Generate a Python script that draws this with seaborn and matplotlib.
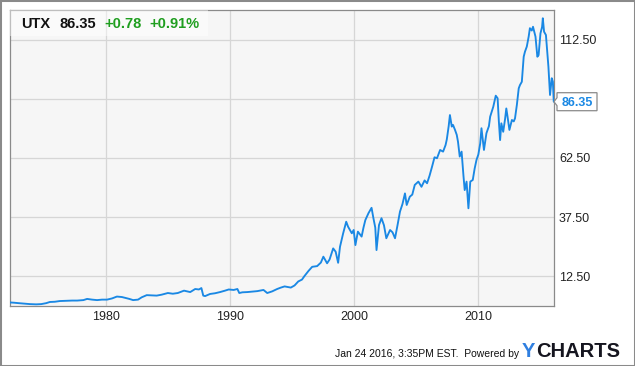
import matplotlib
matplotlib.use("Agg")
import matplotlib.pyplot as plt
import seaborn as sns
import pandas as pd
from matplotlib.patches import Rectangle, Polygon
from matplotlib.transforms import IdentityTransform

# ---------------- data ----------------
ticker = "UTX"
last_price = "86.35"
change_abs = "+0.78"
change_pct = "+0.91%"
footer_text = "Jan 24 2016, 3:35PM EST.  Powered by"

years = [
    1972.29, 1972.6, 1973.0, 1973.5, 1973.9, 1974.4, 1974.8, 1975.2, 1975.5, 1975.9,
    1976.3, 1976.8, 1977.3, 1977.7, 1978.2, 1978.5, 1978.9, 1979.3, 1979.7, 1980.1,
    1980.5, 1980.9, 1981.3, 1981.6, 1981.9, 1982.2, 1982.6, 1982.9, 1983.3, 1983.7,
    1984.1, 1984.5, 1985.0, 1985.4, 1985.8, 1986.3, 1986.8, 1987.2, 1987.5, 1987.7,
    1987.85, 1988.0, 1988.4, 1988.8, 1989.2, 1989.6, 1989.9, 1990.3, 1990.6, 1990.75,
    1991.0, 1991.4, 1991.8, 1992.2, 1992.7, 1993.0, 1993.4, 1993.8, 1994.1, 1994.4,
    1994.9, 1995.2, 1995.5, 1995.8, 1996.0, 1996.33, 1996.62, 1997.02, 1997.32, 1997.52,
    1997.82, 1998.02, 1998.31, 1998.51, 1998.71, 1998.86, 1999.11, 1999.36, 1999.51, 1999.81,
    1999.96, 2000.1, 2000.3, 2000.6, 2000.75, 2000.9, 2001.15, 2001.4, 2001.55, 2001.7,
    2001.8, 2002.0, 2002.2, 2002.4, 2002.59, 2002.89, 2003.09, 2003.29, 2003.49, 2003.69,
    2003.89, 2004.09, 2004.23, 2004.48, 2004.68, 2004.88, 2005.17, 2005.42, 2005.67, 2005.87,
    2006.07, 2006.27, 2006.47, 2006.67, 2006.92, 2007.16, 2007.36, 2007.46, 2007.61, 2007.71,
    2007.86, 2007.96, 2008.12, 2008.26, 2008.36, 2008.5, 2008.65, 2008.8, 2008.9, 2009.05,
    2009.2, 2009.35, 2009.55, 2009.7, 2009.85, 2010.0, 2010.15, 2010.25, 2010.45, 2010.65,
    2010.85, 2010.95, 2011.2, 2011.4, 2011.55, 2011.65, 2011.75, 2011.85, 2012.0, 2012.15,
    2012.25, 2012.35, 2012.5, 2012.7, 2012.85, 2012.95, 2013.1, 2013.25, 2013.35, 2013.5,
    2013.65, 2013.75, 2013.9, 2014.05, 2014.15, 2014.3, 2014.4, 2014.6, 2014.75, 2014.85,
    2015.0, 2015.13, 2015.19, 2015.29, 2015.44, 2015.54, 2015.64, 2015.77, 2015.91, 2016.0,
    2016.07,
]
prices = [
    1.3, 1.2, 1.0, 0.8, 0.6, 0.5, 0.6, 1.0, 1.5, 1.6,
    1.9, 2.0, 2.1, 2.1, 2.3, 2.8, 2.5, 2.3, 2.5, 2.5,
    3.0, 3.8, 3.6, 3.2, 2.8, 2.3, 2.5, 3.5, 4.4, 4.3,
    4.2, 4.6, 5.3, 5.0, 5.3, 6.3, 5.7, 7.0, 6.8, 7.4,
    4.2, 4.0, 4.9, 5.2, 5.7, 6.3, 6.8, 6.6, 7.0, 5.3,
    5.6, 5.7, 5.9, 6.1, 6.6, 5.3, 6.0, 7.0, 7.6, 8.1,
    7.6, 8.5, 10.2, 11.0, 12.5, 14.7, 16.4, 16.7, 18.2, 20.7,
    17.9, 19.5, 24.2, 22.8, 18.1, 24.9, 30.5, 35.5, 33.4, 30.6,
    32.0, 25.6, 31.3, 29.2, 33.0, 36.2, 39.1, 41.4, 37.0, 33.0,
    23.5, 34.1, 37.0, 34.0, 28.5, 32.0, 31.0, 28.5, 34.0, 39.8,
    43.0, 47.5, 42.6, 46.1, 47.0, 51.1, 52.5, 50.3, 53.0, 51.8,
    55.0, 58.8, 62.8, 62.4, 65.9, 65.2, 68.0, 70.4, 76.0, 80.7,
    75.8, 76.5, 74.4, 72.3, 69.4, 63.1, 65.2, 55.0, 48.9, 52.5,
    41.2, 52.5, 53.2, 58.0, 61.7, 64.0, 68.7, 75.1, 65.9, 73.0,
    76.0, 80.0, 84.2, 88.9, 87.8, 78.0, 70.1, 77.2, 73.6, 79.0,
    83.5, 80.0, 74.4, 78.6, 78.0, 79.3, 85.0, 92.0, 93.4, 94.8,
    105.4, 107.5, 109.7, 113.9, 117.5, 116.5, 118.1, 113.9, 105.4, 106.1,
    115.3, 118.0, 121.7, 116.0, 114.6, 108.0, 101.2, 89.2, 96.3, 94.8,
    86.35,
]

ytick_values = [12.5, 37.5, 62.5, 87.5, 112.5]
ytick_labels = ["12.50", "37.50", "62.50", "", "112.50"]
xtick_values = [1980, 1990, 2000, 2010]
xtick_labels = ["1980", "1990", "2000", "2010"]

df = pd.DataFrame({"year": years, "price": prices})

# ---------------- style ----------------
sns.set_theme(style="white")
plt.rcParams['font.family'] = ['Liberation Sans', 'DejaVu Sans']

W, H = 635, 366
fig = plt.figure(figsize=(W / 100, H / 100), dpi=100)
fig.patch.set_facecolor("white")

def fx(px):
    return px / W

def fy(py):
    return 1 - py / H

ax_left, ax_top, ax_right, ax_bottom = 10, 10, 554, 306
ax = fig.add_axes([fx(ax_left), fy(ax_bottom), fx(ax_right - ax_left), (ax_bottom - ax_top) / H])
ax.set_facecolor("#f6f6f6")

line_color = "#1a88e4"
sns.lineplot(data=df, x="year", y="price", ax=ax, color=line_color,
             linewidth=1.35, estimator=None, sort=False, zorder=3)

ax.set_xlim(1972.29, 2016.09)
ax.set_ylim(-0.2, 125.2)
ax.set_xticks(xtick_values)
ax.set_xticklabels(xtick_labels)
ax.set_yticks(ytick_values)
ax.set_yticklabels(ytick_labels)
ax.yaxis.tick_right()
ax.tick_params(axis="both", length=0, labelsize=9, colors="#222222")
ax.tick_params(axis="y", pad=3.6)
ax.tick_params(axis="x", pad=3.8)
ax.set_xlabel("")
ax.set_ylabel("")
ax.grid(True, color="#d6d6d6", linewidth=0.9)
ax.set_axisbelow(True)
for s in ax.spines.values():
    s.set_color("#8a8a8a")
    s.set_linewidth(0.9)
    s.set_visible(True)

# header overlay box
hdr = Rectangle((fx(10), fy(36)), fx(198), 26 / H, transform=fig.transFigure,
                facecolor="white", edgecolor="none", alpha=0.45, zorder=5)
fig.patches.append(hdr)

fig.text(fx(21), fy(28.3), ticker, fontsize=10.5, fontweight="bold", color="#111111",
         ha="left", va="baseline", zorder=6)
fig.text(fx(60), fy(28.3), last_price, fontsize=10.5, fontweight="bold", color="#111111",
         ha="left", va="baseline", zorder=6)
fig.text(fx(104), fy(28.3), change_abs, fontsize=10.5, fontweight="bold", color="#1f9e1f",
         ha="left", va="baseline", zorder=6)
fig.text(fx(149), fy(28.3), change_pct, fontsize=10.5, fontweight="bold", color="#1f9e1f",
         ha="left", va="baseline", zorder=6)

# price tag at the last value
fig.canvas.draw()
tip_x, tip_y = ax.transData.transform((2016.09, prices[-1]))
bx0, bx1 = tip_x + 3, tip_x + 43
by0, by1 = tip_y - 9, tip_y + 9
tag = Polygon([(tip_x, tip_y), (bx0, tip_y + 4), (bx0, by1), (bx1, by1),
               (bx1, by0), (bx0, by0), (bx0, tip_y - 4)], closed=True,
              transform=IdentityTransform(), facecolor="white", edgecolor="#8a8a8a",
              linewidth=0.9, zorder=10)
fig.patches.append(tag)
fig.text((bx0 + bx1) / 2 / W, tip_y / H, last_price, fontsize=9, fontweight="bold",
         color=line_color, ha="center", va="center_baseline", zorder=11)

# footer
fig.text(fx(519), fy(356.7), footer_text, fontsize=7.5, color="#111111",
         ha="right", va="baseline")
ytxt = fig.text(fx(522), fy(357), "Y", fontsize=14.5, fontweight="bold", color="#2f7fe0",
                ha="left", va="baseline")
ax.annotate("CHARTS", xy=(1, 0), xycoords=ytxt, xytext=(0.5, 0), textcoords="offset points",
            fontsize=14.5, fontweight="bold", color="#15151f", ha="left", va="bottom",
            annotation_clip=False)

# outer border
border = Rectangle((0, 0), 1, 1, transform=fig.transFigure, facecolor="none",
                   edgecolor="#8a8a8a", linewidth=2.2, zorder=20)
fig.patches.append(border)

fig.savefig("out.png", dpi=100)
